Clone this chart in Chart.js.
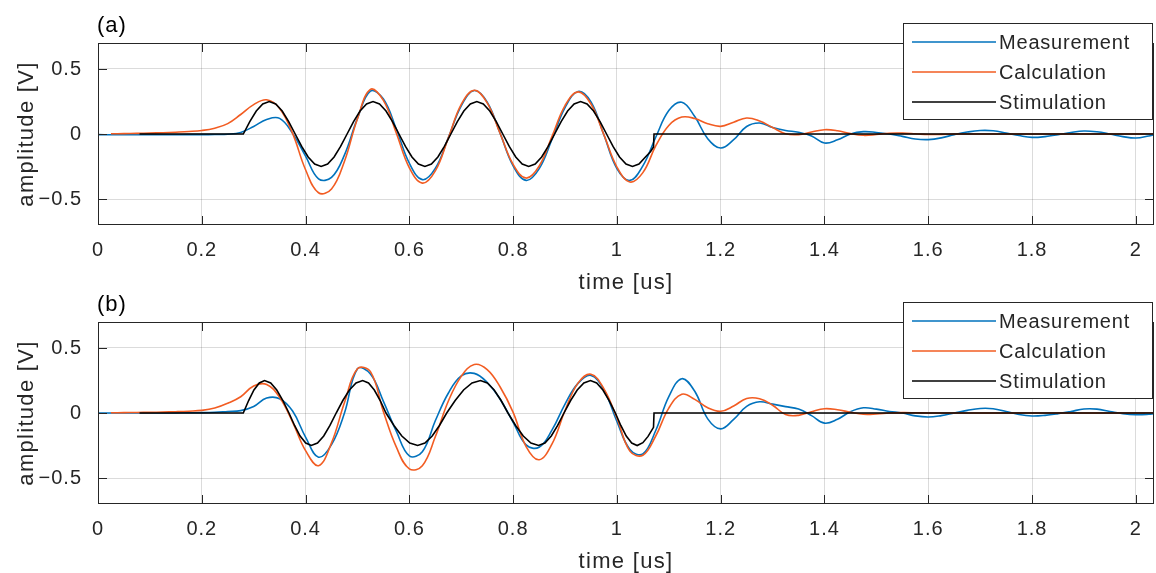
<!DOCTYPE html>
<html>
<head>
<meta charset="utf-8">
<title>Measurement vs calculation</title>
<script src="https://cdn.jsdelivr.net/npm/chart.js@4.4.0/dist/chart.umd.min.js"></script>
<style>
  html, body { margin: 0; padding: 0; background: #fff; }
  #wrap { position: relative; width: 1156px; height: 573px; overflow: hidden; }
  .panel { position: absolute; left: 0; width: 1156px; height: 294px; }
  #panelA { top: 0; }
  #panelB { top: 279px; }
</style>
</head>
<body>
<div id="wrap">
  <div class="panel" id="panelA"><canvas id="chartA" width="1156" height="294"></canvas></div>
  <div class="panel" id="panelB"><canvas id="chartB" width="1156" height="294"></canvas></div>
</div>
<script>
// time axis [us] shared by measurement and calculation
const timeGrid = [
  0, 0.025, 0.05, 0.075, 0.1, 0.125, 0.15, 0.175, 0.2, 0.225,
  0.25, 0.275, 0.3, 0.325, 0.35, 0.375, 0.4, 0.425, 0.45, 0.475,
  0.5, 0.525, 0.55, 0.575, 0.6, 0.625, 0.65, 0.675, 0.7, 0.725,
  0.75, 0.775, 0.8, 0.825, 0.85, 0.875, 0.9, 0.925, 0.95, 0.975,
  1.0, 1.025, 1.05, 1.075, 1.1, 1.125, 1.15, 1.175, 1.2, 1.225,
  1.25, 1.275, 1.3, 1.325, 1.35, 1.375, 1.4, 1.425, 1.45, 1.475,
  1.5, 1.525, 1.55, 1.575, 1.6, 1.625, 1.65, 1.675, 1.7, 1.725,
  1.75, 1.775, 1.8, 1.825, 1.85, 1.875, 1.9, 1.925, 1.95, 1.975,
  2.0, 2.025, 2.035
];

// (a) amplitude [V]
const measA = [
  -0.005, -0.006, -0.006, -0.006, -0.006, -0.006, -0.006, -0.005, -0.005, -0.004,
  -0.002, 0.012, 0.058, 0.112, 0.12, 0.005, -0.17, -0.345, -0.334, -0.161,
  0.12, 0.33, 0.269, 0.036, -0.225, -0.351, -0.265, -0.03, 0.217, 0.334,
  0.245, 0.005, -0.245, -0.357, -0.268, -0.04, 0.203, 0.327, 0.246, -0.008,
  -0.266, -0.357, -0.245, -0.023, 0.18, 0.244, 0.134, -0.036, -0.108, -0.044,
  0.058, 0.085, 0.05, 0.027, 0.013, -0.015, -0.069, -0.045, 0.0, 0.018,
  0.012, 0.0, -0.018, -0.038, -0.043, -0.03, -0.005, 0.015, 0.027, 0.025,
  0.008, -0.012, -0.026, -0.02, -0.005, 0.012, 0.023, 0.017, 0.0, -0.02,
  -0.031, -0.015, -0.005
];
const calcA = [
  null, 0.002, 0.003, 0.005, 0.007, 0.01, 0.014, 0.019, 0.027, 0.045,
  0.08, 0.15, 0.226, 0.263, 0.197, 0.005, -0.275, -0.452, -0.423, -0.209,
  0.118, 0.343, 0.258, 0.006, -0.26, -0.378, -0.284, -0.032, 0.228, 0.337,
  0.239, 0.004, -0.234, -0.339, -0.248, -0.018, 0.219, 0.324, 0.231, -0.007,
  -0.254, -0.369, -0.297, -0.09, 0.066, 0.13, 0.119, 0.079, 0.059, 0.091,
  0.123, 0.1, 0.05, 0.002, -0.005, 0.015, 0.033, 0.025, 0.003, -0.01,
  -0.004, 0.006, 0.007, 0.002, -0.004, -0.003, 0, 0, 0, 0,
  0, 0, 0, 0, 0, 0, 0, 0, 0, 0,
  0, 0, 0
];
const stimTimeA = [
  0.08, 0.28, 0.2925, 0.305, 0.3175, 0.33, 0.3425, 0.355, 0.3675, 0.38,
  0.3925, 0.405, 0.4175, 0.43, 0.4425, 0.455, 0.4675, 0.48, 0.4925, 0.505,
  0.5175, 0.53, 0.5425, 0.555, 0.5675, 0.58, 0.5925, 0.605, 0.6175, 0.63,
  0.6425, 0.655, 0.6675, 0.68, 0.6925, 0.705, 0.7175, 0.73, 0.7425, 0.755,
  0.7675, 0.78, 0.7925, 0.805, 0.8175, 0.83, 0.8425, 0.855, 0.8675, 0.88,
  0.8925, 0.905, 0.9175, 0.93, 0.9425, 0.955, 0.9675, 0.98, 0.9925, 1.005,
  1.0175, 1.03, 1.0425, 1.055, 1.065, 1.0705, 1.0715, 2.035
];
const stimA = [
  0, 0, 0.096, 0.177, 0.231, 0.25, 0.231, 0.177, 0.096, 0,
  -0.096, -0.177, -0.231, -0.25, -0.231, -0.177, -0.096, 0, 0.096, 0.177,
  0.231, 0.25, 0.231, 0.177, 0.096, 0, -0.096, -0.177, -0.231, -0.25,
  -0.231, -0.177, -0.096, 0, 0.096, 0.177, 0.231, 0.25, 0.231, 0.177,
  0.096, 0, -0.096, -0.177, -0.231, -0.25, -0.231, -0.177, -0.096, 0,
  0.096, 0.177, 0.231, 0.25, 0.231, 0.177, 0.096, 0, -0.096, -0.177,
  -0.231, -0.25, -0.231, -0.177, -0.135, -0.1, 0, 0
];

// (b) amplitude [V]
const measB = [
  0, 0, 0, 0, 0, 0, 0.001, 0.002, 0.003, 0.006,
  0.012, 0.018, 0.05, 0.115, 0.11, 0.015, -0.185, -0.34, -0.243, 0.0,
  0.34, 0.3, 0.09, -0.142, -0.33, -0.298, -0.06, 0.152, 0.285, 0.305,
  0.235, 0.106, -0.071, -0.245, -0.263, -0.13, 0.069, 0.228, 0.289, 0.177,
  -0.064, -0.28, -0.315, -0.133, 0.126, 0.264, 0.167, -0.045, -0.122, -0.049,
  0.051, 0.086, 0.068, 0.049, 0.03, -0.02, -0.078, -0.048, 0.01, 0.04,
  0.03, 0.012, 0.0, -0.022, -0.031, -0.02, 0.0, 0.02, 0.035, 0.033,
  0.012, -0.012, -0.023, -0.018, -0.005, 0.012, 0.031, 0.03, 0.012, -0.005,
  -0.013, -0.01, -0.005
];
const calcB = [
  null, 0.002, 0.003, 0.004, 0.005, 0.007, 0.01, 0.014, 0.02, 0.038,
  0.075, 0.125, 0.208, 0.22, 0.12, -0.07, -0.29, -0.405, -0.23, 0.08,
  0.34, 0.318, 0.01, -0.263, -0.43, -0.405, -0.183, 0.09, 0.282, 0.373,
  0.334, 0.2, 0.005, -0.258, -0.36, -0.237, 0.019, 0.23, 0.298, 0.186,
  -0.038, -0.293, -0.325, -0.175, 0.038, 0.144, 0.105, 0.04, 0.013, 0.054,
  0.112, 0.11, 0.06, -0.012, -0.018, 0.01, 0.033, 0.025, 0.006, -0.01,
  -0.008, 0.0, 0.003, 0.002, 0, 0, 0, 0, 0, 0,
  0, 0, 0, 0, 0, 0, 0, 0, 0, 0,
  0, 0, 0
];
const stimTimeB = [
  0.08, 0.28, 0.2903, 0.3005, 0.3108, 0.321, 0.3328, 0.3445, 0.3563, 0.368,
  0.3788, 0.3895, 0.4003, 0.411, 0.423, 0.435, 0.447, 0.459, 0.4718, 0.4845,
  0.4973, 0.51, 0.5213, 0.5325, 0.5438, 0.555, 0.5703, 0.5855, 0.6008, 0.616,
  0.63, 0.644, 0.658, 0.672, 0.6883, 0.7045, 0.7208, 0.737, 0.7503, 0.7635,
  0.7768, 0.79, 0.8048, 0.8195, 0.8343, 0.849, 0.8613, 0.8735, 0.8858, 0.898,
  0.9108, 0.9235, 0.9363, 0.949, 0.961, 0.973, 0.985, 0.997, 1.0075, 1.018,
  1.0285, 1.039, 1.05, 1.06, 1.0705, 1.0715, 2.035
];
const stimB = [
  0, 0, 0.096, 0.177, 0.231, 0.25, 0.231, 0.177, 0.096, 0,
  -0.096, -0.177, -0.231, -0.25, -0.231, -0.177, -0.096, 0, 0.096, 0.177,
  0.231, 0.25, 0.231, 0.177, 0.096, 0, -0.096, -0.177, -0.231, -0.25,
  -0.231, -0.177, -0.096, 0, 0.096, 0.177, 0.231, 0.25, 0.231, 0.177,
  0.096, 0, -0.096, -0.177, -0.231, -0.25, -0.231, -0.177, -0.096, 0,
  0.096, 0.177, 0.231, 0.25, 0.231, 0.177, 0.096, 0, -0.096, -0.177,
  -0.231, -0.25, -0.228, -0.18, -0.11, 0, 0
];

const seriesNames = ['Measurement', 'Calculation', 'Stimulation'];
const xTickValues = [0, 0.2, 0.4, 0.6, 0.8, 1, 1.2, 1.4, 1.6, 1.8, 2];
const yTickValues = [-0.5, 0, 0.5];

const BLUE = '#0072BD';
const ORANGE = '#F25C22';
const AXIS = '#262626';
const FONT = "'Liberation Sans', Arial, Helvetica, sans-serif";

Chart.defaults.font.family = FONT;
Chart.defaults.color = AXIS;

const pts = (xs, ys) => xs.map((x, i) => ({ x: x, y: ys[i] }));

// box, inward ticks, legend and panel label, MATLAB style
const framePlugin = {
  id: 'frame',
  beforeDraw(chart) {
    chart.ctx.letterSpacing = '1px';
    // axis titles are spaced a bit wider than tick labels
    Object.values(chart.scales).forEach(s => {
      if (s._wideTitle) return;
      const orig = s.drawTitle;
      s.drawTitle = function () {
        const prev = this.ctx.letterSpacing;
        this.ctx.letterSpacing = '1.3px';
        orig.apply(this, arguments);
        this.ctx.letterSpacing = prev;
      };
      s._wideTitle = true;
    });
  },
  afterDraw(chart, args, opts) {
    const { ctx, chartArea: a, scales: { x, y } } = chart;
    const tick = 9;
    ctx.save();
    ctx.strokeStyle = AXIS;
    ctx.lineWidth = 1;
    ctx.beginPath();
    xTickValues.forEach(v => {
      const px = Math.round(x.getPixelForValue(v)) + 0.5;
      ctx.moveTo(px, a.bottom); ctx.lineTo(px, a.bottom - tick);
      ctx.moveTo(px, a.top); ctx.lineTo(px, a.top + tick);
    });
    yTickValues.forEach(v => {
      const py = Math.round(y.getPixelForValue(v)) + 0.5;
      ctx.moveTo(a.left, py); ctx.lineTo(a.left + tick, py);
      ctx.moveTo(a.right, py); ctx.lineTo(a.right - tick, py);
    });
    ctx.stroke();
    ctx.strokeRect(Math.round(a.left) + 0.5, Math.round(a.top) + 0.5,
      Math.round(a.right - a.left) - 1, Math.round(a.bottom - a.top) - 1);

    // legend box
    const lx = 903, ly = 23, lw = 249, lh = 96;
    ctx.fillStyle = '#fff';
    ctx.fillRect(lx, ly, lw, lh);
    ctx.strokeStyle = AXIS;
    ctx.strokeRect(lx + 0.5, ly + 0.5, lw, lh);
    ctx.letterSpacing = '0.8px';
    ctx.font = '20px ' + FONT;
    ctx.textBaseline = 'middle';
    ctx.textAlign = 'left';
    chart.data.datasets.forEach((ds, i) => {
      const ry = 42 + i * 30;
      ctx.strokeStyle = ds.borderColor;
      ctx.lineWidth = ds.borderWidth;
      ctx.beginPath();
      ctx.moveTo(912, ry); ctx.lineTo(996, ry);
      ctx.stroke();
      ctx.fillStyle = AXIS;
      ctx.fillText(ds.label, 999, ry + 1);
    });

    // panel label
    ctx.letterSpacing = '1px';
    ctx.font = '22px ' + FONT;
    ctx.fillStyle = '#000';
    ctx.fillText(opts.label, 97, 26);
    ctx.restore();
  }
};

function makeChart(canvasId, label, meas, calc, stimTime, stim) {
  const tickFont = { size: 20, family: FONT };
  const titleFont = { size: 22, family: FONT, lineHeight: 1 };
  return new Chart(document.getElementById(canvasId), {
    type: 'line',
    data: {
      datasets: [
        { label: seriesNames[0], data: pts(timeGrid, meas), borderColor: BLUE,
          borderWidth: 1.6, pointRadius: 0, tension: 0.4, order: 2 },
        { label: seriesNames[1], data: pts(timeGrid, calc), borderColor: ORANGE,
          borderWidth: 1.6, pointRadius: 0, tension: 0.4, order: 1 },
        { label: seriesNames[2], data: pts(stimTime, stim), borderColor: '#000',
          borderWidth: 1.6, pointRadius: 0, tension: 0, order: 0 }
      ]
    },
    options: {
      responsive: false,
      animation: false,
      events: [],
      layout: { padding: { top: 43, right: 2, left: 0, bottom: 0 } },
      plugins: {
        legend: { display: false },
        tooltip: { enabled: false },
        frame: { label: label }
      },
      scales: {
        x: {
          type: 'linear',
          min: 0,
          max: 2.035,
          afterBuildTicks: s => { s.ticks = xTickValues.map(v => ({ value: v })); },
          afterFit: s => { s.height = 69; },
          border: { display: false },
          grid: { color: 'rgba(0,0,0,0.14)', lineWidth: 1, drawTicks: false },
          ticks: { padding: 13, font: tickFont, color: AXIS, maxRotation: 0, autoSkip: false,
                   callback: v => String(v) },
          title: { display: true, text: 'time [us]', font: titleFont,
                   color: AXIS, padding: { top: 0, bottom: 0 } }
        },
        y: {
          min: -0.7,
          max: 0.7,
          afterBuildTicks: s => { s.ticks = yTickValues.map(v => ({ value: v })); },
          afterFit: s => { s.width = 98; },
          border: { display: false },
          grid: { color: 'rgba(0,0,0,0.14)', lineWidth: 1, drawTicks: false },
          ticks: { padding: 16, font: tickFont, color: AXIS,
                   callback: v => (v < 0 ? '\u2212' + Math.abs(v) : String(v)) },
          title: { display: true, text: 'amplitude [V]', font: titleFont,
                   color: AXIS, padding: { top: 16, bottom: 0 } }
        }
      }
    },
    plugins: [framePlugin]
  });
}

makeChart('chartA', '(a)', measA, calcA, stimTimeA, stimA);
makeChart('chartB', '(b)', measB, calcB, stimTimeB, stimB);
</script>
</body>
</html>
